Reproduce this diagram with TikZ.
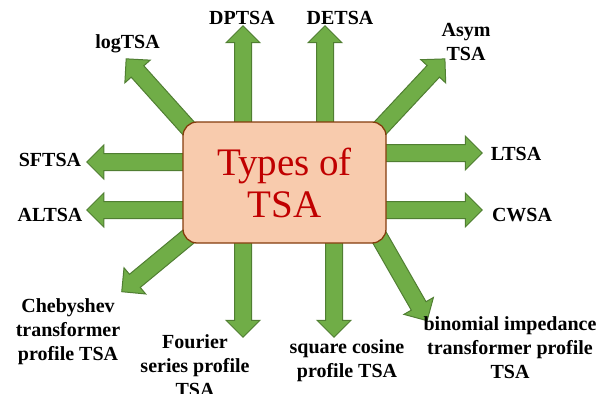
\documentclass[tikz,border=0pt]{standalone}
\usepackage{fontspec}
\setmainfont{Liberation Serif}
\usepackage{xcolor}
\usepackage{tikz}
\usetikzlibrary{calc,shapes.arrows}
\definecolor{arrowfill}{RGB}{112,173,71}
\definecolor{arrowline}{RGB}{80,126,50}
\definecolor{boxfill}{RGB}{248,203,173}
\definecolor{boxline}{RGB}{132,60,12}
\definecolor{typered}{RGB}{192,0,0}
% block arrow from the first named point to the second
\newcommand{\tsaarrow}[2]{%
  \path let \p1=($(#2)-(#1)$), \n1={atan2(\y1,\x1)}, \n2={veclen(\x1,\y1)} in
    node[blockarrow,rotate=\n1,minimum height=\n2] (a#2) at ($(#1)!0.5!(#2)$) {};}

\begin{document}
\begin{tikzpicture}[
          x=1pt,y=-1pt,
          tsabox/.style={rectangle,rounded corners=14pt,draw=boxline,line width=1.3pt,
            fill=boxfill,minimum width=203pt,minimum height=121pt,align=center,
            text=typered,font=\fontsize{39}{42}\selectfont},
          lbl/.style={align=center,inner sep=0pt,font=\bfseries\fontsize{20}{24}\selectfont},
          blockarrow/.style={single arrow,draw=arrowline,fill=arrowfill,line width=1pt,
            inner xsep=0pt,inner ysep=8pt,single arrow head extend=8.5pt,
            single arrow head indent=0pt}
          ]
          \useasboundingbox (0,0) rectangle (612,393);
          % the tails and tips of the arrows
          \foreach \i/\xa/\ya/\xb/\yb in {1/199/140/129/62, 2/243/135/243/30,
              3/325/135/325/30, 4/370/139/442/62, 5/195/162/91/162, 6/195/210/91/210,
              7/375/153/478/153, 8/375/210/478/210, 9/200/227/125/289,
              10/243/230/243/333, 11/334/230/334/333, 12/374/228/425/317}
          {
            \coordinate (s\i) at (\xa,\ya);
            \coordinate (e\i) at (\xb,\yb);
          }
          % the arrows
          \foreach \i in {1,...,12}
            \tsaarrow{s\i}{e\i};
          % the box in the middle
          \node[tsabox] (types) at (284.5,182.5) {Types of\\TSA};
          % the types of TSA
          \foreach \i/\x/\y/\txt in {1/127.5/44/logTSA, 2/242/18/DPTSA, 3/340/18/DETSA,
              4/466/42/{Asym\\TSA}, 5/50/160/SFTSA, 6/50/215/ALTSA,
              7/516/154/LTSA, 8/522/215/CWSA,
              9/68/332/{Chebyshev\\transformer\\profile TSA},
              10/195/366/{Fourier\\series profile\\TSA},
              11/347/361/{square cosine\\profile TSA},
              12/510/348/{binomial impedance\\transformer profile\\TSA}}
            \node[lbl] (t\i) at (\x,\y) {\txt};
\end{tikzpicture}
\end{document}
